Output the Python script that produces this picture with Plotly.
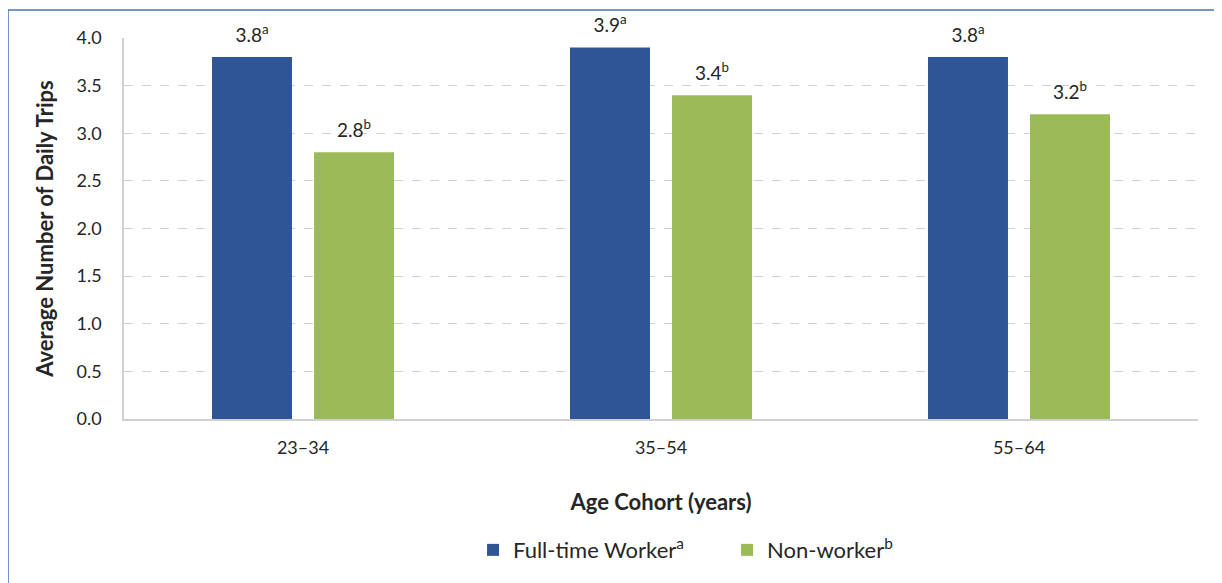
import plotly.graph_objects as go

# Data
age_cohorts = ["23–34", "35–54", "55–64"]
full_time = [3.8, 3.9, 3.8]
non_worker = [2.8, 3.4, 3.2]
y_ticks = [0.0, 0.5, 1.0, 1.5, 2.0, 2.5, 3.0, 3.5, 4.0]

FONT = "Lato, 'Open Sans', sans-serif"


def label(v, sup):
    # small base font keeps the blank second line short -> lifts label a little
    return f"<span style='font-size:19px'>{v:.1f}<sup>{sup}</sup></span><br> "


fig = go.Figure()

fig.add_trace(go.Bar(
    x=age_cohorts, y=full_time,
    name="Full-time Worker<sup>a</sup>",
    marker=dict(color="#2F5597", line=dict(width=0)),
    text=[label(v, "a") for v in full_time],
    textposition="outside", cliponaxis=False,
    textfont=dict(size=8, color="#262626"),
))
fig.add_trace(go.Bar(
    x=age_cohorts, y=non_worker,
    name="Non-worker<sup>b</sup>",
    marker=dict(color="#9BBB59", line=dict(width=0)),
    text=[label(v, "b") for v in non_worker],
    textposition="outside", cliponaxis=False,
    textfont=dict(size=8, color="#262626"),
))

# outer frame of the chart area
fig.add_shape(type="rect", xref="paper", yref="paper",
              x0=-0.108, x1=1.05, y0=-0.5, y1=1.0735,
              line=dict(color="#4A72C4", width=1.5), layer="below")

fig.update_layout(
    width=1214, height=575,
    margin=dict(l=116, r=24, t=30, b=164),
    paper_bgcolor="white", plot_bgcolor="white",
    font=dict(family=FONT, size=18, color="#262626"),
    barmode="group", bargap=0.43, bargroupgap=0.216,
    showlegend=True,
    legend=dict(orientation="h", x=0.5615, xanchor="center", y=-0.344, yanchor="middle",
                font=dict(size=22), itemwidth=30, entrywidth=209, traceorder="normal"),
    xaxis=dict(
        showgrid=False, showline=True, linecolor="#d0d0d0", linewidth=1.5,
        ticks="", ticklabelstandoff=12, tickfont=dict(size=18),
        title=dict(text="<b>Age Cohort (years)</b>", font=dict(size=22), standoff=37),
    ),
    yaxis=dict(
        range=[0, 4.0], tickvals=y_ticks, tickformat=".1f",
        showgrid=True, gridcolor="#d0d0d0", griddash="dash", gridwidth=1,
        showline=True, linecolor="#d0d0d0", linewidth=1.5,
        zeroline=False, ticks="", ticklabelstandoff=17, tickfont=dict(size=18),
        title=dict(text="<b>Average Number of Daily Trips</b>", font=dict(size=22), standoff=17),
    ),
)

fig.write_html("out.html")
